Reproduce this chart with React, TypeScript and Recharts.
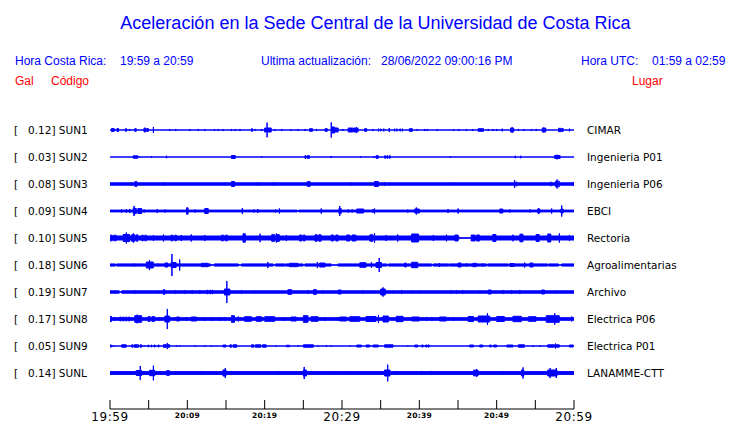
import React from 'react';
import { ComposedChart, Area, XAxis, YAxis } from 'recharts';

type Burst = [number, number, number?];

const BLUE = '#0000ff';
const RED = '#ff0000';

const codes = ['SUN1', 'SUN2', 'SUN3', 'SUN4', 'SUN5', 'SUN6', 'SUN7', 'SUN8', 'SUN9', 'SUNL'];
const places = [
  'CIMAR', 'Ingenieria P01', 'Ingenieria P06', 'EBCI', 'Rectoria',
  'Agroalimentarias', 'Archivo', 'Electrica P06', 'Electrica P01', 'LANAMME-CTT',
];
const peaks = ['0.12', '0.03', '0.08', '0.09', '0.10', '0.18', '0.19', '0.17', '0.05', '0.14'];
// half width of the background noise band of each trace
const baseNoise = [0, 0, 1.2, 0.9, 2.0, 1.1, 1.2, 1.3, 0, 1.4];

// minutes after 19:59
const tickMinutes = [0, 5, 10, 15, 20, 25, 30, 35, 40, 45, 50, 55, 60];
const tickLabels = ['19:59', '', '20:09', '', '20:19', '', '20:29', '', '20:39', '', '20:49', '', '20:59'];
const majorLabels = ['19:59', '20:29', '20:59'];

// bursts: [minute, half amplitude, duration in minutes]
const sun1: Burst[] = [[0.2,1.5,0.3],[0.6,1.2],[0.9,1.5,0.2],[2.0,1.3,0.15],[2.55,1],[3.2,1.3,0.2],[4.4,2,0.2],[4.75,1.5,0.2],[5.6,3],[7.7,1],[8.5,1],[10.3,0.8],[11.4,1],[12.25,1],[13.5,1],[14.0,1],[14.6,1],[15.7,1],[16.2,1],[16.8,1],[18.3,1.3,0.15],[18.8,1],[19.6,1],[20.0,2,0.25],[20.3,7.3],[20.4,2,0.45],[21.3,1],[22.2,1],[23.4,0.8],[24.3,1],[25.2,1],[25.8,1.3,0.4],[26.7,1],[27.8,1.3,0.3],[28.6,7.5],[28.7,3,0.35],[29.1,2,0.4],[30.1,1],[30.8,2,0.6],[31.5,2,0.3],[31.9,3],[32.0,1.5,0.1],[32.9,1.3,0.3],[34.0,1],[34.7,1.3],[35.0,1.3],[35.4,1.3],[36.1,2],[36.8,1.3],[37.1,1.3],[37.5,1.3],[37.8,1.3],[38.7,1.3,0.4],[39.7,1],[40.7,1],[41.0,1],[42.3,1],[44.4,0.8],[45.1,1],[46.1,1],[46.9,1],[47.6,1.3,0.7],[48.9,1],[49.5,1],[50.0,1],[50.7,1.3],[51.8,2,0.2],[52.0,2.7],[52.1,2,0.1],[52.8,1],[53.5,1],[54.5,1],[55.1,1],[55.9,2,0.2],[56.1,2.5],[56.2,2,0.15],[58.0,1.7,0.3],[58.4,1.5,0.2],[59.4,1.3]];
const sun2: Burst[] = [[3.0,1.2,0.6],[3.8,0.5],[5.35,0.7],[7.3,1.2],[15.7,1.5,0.5],[19.6,0.6],[25.2,1.3,0.15],[25.5,1.3,0.3],[28.6,1],[32.4,0.7],[34.1,1],[34.4,1.3,0.3],[35.5,1.2,0.15],[35.8,1.2,0.15],[36.1,1.2,0.15],[44.0,0.7],[52.4,1.2],[53.1,1.2],[57.5,1.5,0.3],[57.8,2.3],[57.9,1.5,0.3]];
const sun3: Burst[] = [[3.2,2.3,0.3],[6.9,1.8],[15.7,2.5,0.4],[19.1,1.7],[21.2,1.8],[25.5,2.3,0.4],[31.2,1.6],[34.2,2.5,0.2],[34.4,2.8],[34.45,2.5,0.25],[35.5,2],[43.9,1.6],[52.3,4],[52.5,2.3],[57.0,2.2],[57.6,2.8,0.2],[57.8,4.5],[57.85,2.8,0.25],[59.9,2]];
const sun4: Burst[] = [[1.47,1.5],[2.1,1.8],[2.55,2],[3.0,2.7,0.1],[3.1,5],[3.15,2.7,0.25],[3.6,2.5,0.5],[4.4,1.5],[6.1,2],[7.1,1.5],[9.9,3.2,0.2],[11.0,1.5],[12.25,2.5,0.45],[17.1,3],[18.6,1.5],[19.1,2],[21.4,1.5],[21.9,2.5],[24.2,0.4,0.2],[27.3,2.5],[29.6,2.5,0.1],[29.7,5],[29.75,2.5,0.15],[30.8,1.5],[31.3,1.5],[31.9,2,0.9],[34.0,1.8],[34.2,2.5],[38.5,1.5],[39.4,2,0.2],[39.6,3.5],[39.65,2,0.35],[43.7,2],[45.0,2.5],[50.4,2,0.4],[51.7,1.5],[52.5,1],[54.3,1.5],[55.3,2,0.1],[55.4,3],[55.45,2,0.15],[57.1,2.5],[58.3,2,0.1],[58.4,5.5],[58.45,2,0.15]];
const sun5: Burst[] = [[0.0,2.8,0.3],[0.5,2.8,0.3],[1.7,3.5,0.35],[2.1,5.5],[2.15,3.5,0.4],[2.8,3.2,0.2],[3.0,4.5],[3.05,3.2,0.2],[3.4,3.2,0.2],[4.1,2.8,0.2],[4.5,2.8,0.2],[5.6,3],[6.9,3.5],[7.9,2.8,0.25],[8.4,2.8,0.2],[9.2,3],[10.5,3.5],[12.25,3],[14.4,2.8,0.3],[14.9,2.8,0.3],[17.2,4.2,0.3],[19.4,4.2],[20.9,3.3,0.4],[21.5,4.5],[21.55,3.3,0.35],[22.8,3],[24.5,3,0.3],[25.0,3,0.2],[26.5,3.2,0.3],[27.0,3.2,0.3],[28.6,3,0.3],[29.2,3,0.3],[30.6,3,0.4],[31.3,3,0.5],[33.6,3.2,0.4],[34.2,4.7],[35.7,3],[37.2,3.5],[39.0,4,0.9],[41.8,3],[43.5,3.3],[44.6,3,0.4],[45.1,0.3,1.6],[46.7,3,0.5],[47.4,3,0.4],[49.5,3.5,0.4],[52.1,3.3],[53.0,3.8,0.4],[55.1,3.5,0.4],[56.6,4,0.4],[58.1,4.5],[59.4,3]];
const sun6: Burst[] = [[0.7,0.2,0.17],[3.1,1.5],[4.7,3,0.35],[5.1,5],[5.15,3,0.45],[6.2,1.5],[7.1,2,0.4],[7.9,2.5,0.1],[8.0,11],[8.05,2.5,0.5],[9.0,5.5],[11.8,1.7,0.9],[13.0,0.2,0.5],[16.6,0.2,0.4],[20.4,3],[21.1,0.2,0.3],[22.6,0.2,0.1],[23.2,1.7,1.1],[24.96,0.2,0.24],[26.8,3],[27.1,2,0.7],[28.6,0.2,0.9],[32.3,2.3,0.8],[33.8,2.8],[34.4,2.5,0.4],[34.8,7],[34.85,2.5,0.25],[35.8,0.2,0.2],[38.1,2,0.2],[39.0,2.7,0.8],[41.6,0.2,0.2],[42.6,2],[43.8,0.2,0.1],[45.0,2,0.4],[46.1,1.7],[46.9,1.7,0.5],[48.2,1.7],[48.7,0.2,0.15],[51.5,0.2,0.15],[51.7,1.5,0.6],[53.6,2.5],[54.0,0.2,0.1],[54.3,2,0.4],[56.6,0.2,0.15],[58.0,0.2,0.4]];
const sun7: Burst[] = [[1.2,0.2,0.3],[3.2,1.8],[4.7,1.5],[6.2,1.5],[6.9,2.3,0.2],[8.4,1.8],[9.7,1.8],[10.6,1.8],[11.6,1.8],[12.5,1.8,0.15],[12.9,1.8,0.15],[13.2,1.8,0.1],[14.8,3,0.25],[15.1,11],[15.15,3,0.35],[17.0,1.8],[18.7,1.5],[23.0,2.3,0.5],[25.6,1.8],[26.3,2.3,0.4],[27.5,1.8],[29.5,2,0.4],[32.7,1.8],[35.0,3,0.3],[35.3,4.5],[35.35,3,0.25],[36.6,1.5],[37.7,2],[39.0,1.5],[40.0,1.5],[41.3,1.5],[44.1,1.8],[44.8,1.8],[45.6,1.8],[47.8,1.5],[48.9,2,0.4],[50.8,2],[51.9,1.8],[53.0,2],[55.8,2,0.4],[57.7,1.5]];
const sun8: Burst[] = [[0.0,2.5,0.2],[0.6,2],[1.25,2,0.15],[1.6,2,0.15],[2.0,2,0.15],[2.4,2,0.15],[3.2,3.3,0.3],[3.5,4.3],[3.55,3.3,0.55],[4.9,2.3,0.3],[5.4,2.3,0.4],[6.4,2],[7.1,3,0.3],[7.4,10],[7.45,3,0.25],[8.6,2,0.4],[9.9,2],[10.5,2,0.7],[12.25,2],[13.1,2],[14.2,2],[14.8,2],[15.7,3.3,0.4],[16.6,2.5],[17.4,2.3,0.9],[18.9,2.3,0.7],[20.0,2.3,1.3],[22.6,2],[23.4,2,0.7],[25.0,3.3,0.6],[26.0,2.3,0.9],[27.8,2],[29.5,2],[29.7,2,0.9],[31.0,2.3,1.3],[33.1,2.5,1.3],[34.7,4],[35.3,3,0.7],[37.0,2.7,0.9],[39.0,2,1.0],[40.9,2],[41.6,2],[42.6,2,0.9],[44.4,2],[46.3,2.5,0.7],[47.6,3,1.2],[48.8,5.7],[48.85,3,0.25],[50.0,2.5,1.0],[52.1,2.7,1.1],[54.1,2.3,1.0],[56.4,3.3,1.1],[57.5,5.7],[57.55,3.3,0.55],[59.7,2.5]];
const sun9: Burst[] = [[0.0,1,0.2],[0.4,0.6],[1.5,1.2,0.6],[2.8,1.2,0.15],[3.1,1.2,0.6],[3.9,1.2,0.2],[4.4,0.6],[4.9,1,0.1],[5.3,1,0.1],[5.7,1,0.15],[6.2,1,0.15],[6.9,1.3,0.4],[7.4,3],[7.45,1.3,0.25],[8.6,0.6],[9.0,0.6],[11.0,0.6],[12.25,0.6],[13.1,0.6],[14.6,1,0.4],[15.5,1.2,0.2],[15.9,1.2,0.5],[18.3,1.2,0.3],[18.8,1.2,0.7],[19.7,1.2,0.5],[21.5,0.6],[22.8,0.8,0.4],[24.3,0.6],[25.0,1.2,1.3],[26.9,0.6],[28.0,0.8],[28.6,0.6],[31.0,0.5],[31.9,1,0.6],[33.1,1,0.5],[34.0,1,0.7],[35.5,1.2,1.1],[38.5,0.6],[39.4,1,0.4],[40.3,1,0.2],[40.8,1,0.2],[41.1,1,0.2],[46.5,1,0.5],[47.8,1,0.4],[49.1,1,0.2],[49.6,1,0.4],[51.3,1,0.8],[52.8,1.2,0.8],[54.7,0.8],[55.6,0.6],[56.6,1.2,0.9],[57.6,2.5],[57.65,1.2,0.45],[59.4,1,0.5]];
const sunl: Burst[] = [[0.2,2],[3.4,2.5,0.5],[3.9,7],[3.95,2.5,0.15],[5.1,2.7,0.5],[5.6,7.3],[5.65,2.7,0.15],[6.6,1.8],[7.3,2.3,0.4],[11.8,2],[14.6,3,0.3],[14.9,5],[14.95,3,0.05],[15.7,2],[16.3,1.8],[21.8,2],[25.0,3,0.1],[25.1,6],[25.15,3,0.25],[29.1,1.8],[31.0,1.8],[35.5,3,0.4],[35.9,8.3],[35.95,3,0.25],[37.0,2],[40.3,2],[41.6,2],[47.0,2.8,0.4],[47.4,3.8],[47.45,2.8,0.15],[50.7,2],[53.2,3,0.2],[53.4,5.5],[53.45,3,0.05],[56.6,3,0.3],[56.9,5],[56.95,3,0.75],[57.7,5],[57.75,3,0.05]];

const bursts = [sun1, sun2, sun3, sun4, sun5, sun6, sun7, sun8, sun9, sunl];

const SPACING = 27;
const centers = codes.map((_, i) => 13 + SPACING * i);

function buildBand(center: number, base: number, list: Burst[]) {
  const sorted = [...list].sort((a, b) => a[0] - b[0]);
  const band = (a: number) => [center - a, center + a];
  const pts: { t: number; v: number[] }[] = [{ t: 0, v: band(base) }];
  sorted.forEach(([t, a, d = 0.02], i) => {
    const next = i + 1 < sorted.length ? sorted[i + 1][0] : 60;
    const end = Math.min(t + d, next);
    pts.push({ t, v: band(a) });
    if (end < next) pts.push({ t: end, v: band(base) });
  });
  pts.push({ t: 60, v: band(base) });
  return pts;
}

const traces = codes.map((c, i) => ({ code: c, data: buildBand(centers[i], baseNoise[i], bursts[i]) }));

const LeftTick = (props: any) => {
  const { y, payload } = props;
  const i = centers.indexOf(payload.value);
  if (i < 0) return null;
  return (
    <g fontFamily="DejaVu Sans" fontSize={10.5} fill="#000">
      <text x={14} y={y + 4}>[</text>
      <text x={28} y={y + 4}>{`${peaks[i]}] ${codes[i]}`}</text>
    </g>
  );
};

const RightTick = (props: any) => {
  const { y, payload } = props;
  const i = centers.indexOf(payload.value);
  if (i < 0) return null;
  return (
    <text x={587} y={y + 4} fontFamily="DejaVu Sans" fontSize={10.5} fill="#000">
      {places[i]}
    </text>
  );
};

const TimeTick = (props: any) => {
  const { x, y, payload } = props;
  const i = tickMinutes.indexOf(payload.value);
  const label = i >= 0 ? tickLabels[i] : '';
  const major = majorLabels.includes(label);
  return (
    <g>
      <line x1={x} x2={x} y1={y - 9} y2={y} stroke="#000" strokeWidth={1} />
      {label && (
        <text
          x={x}
          y={y + (major ? 12 : 9)}
          textAnchor="middle"
          fontFamily="DejaVu Sans"
          fontSize={major ? 12 : 7.5}
          fontWeight={major ? 'normal' : 'bold'}
          letterSpacing={major ? 0.6 : 0.3}
          fill="#000"
        >
          {label}
        </text>
      )}
    </g>
  );
};

export default function App() {
  return (
    <div style={{ position: 'absolute', left: 0, top: 0, width: 740, height: 423, background: '#fff' }}>
      <svg width={740} height={100} style={{ position: 'absolute', left: 0, top: 0 }}>
        <g fontFamily="Liberation Sans">
          <text x={375.5} y={29} textAnchor="middle" fontSize={18} fill={BLUE}>
            Aceleración en la Sede Central de la Universidad de Costa Rica
          </text>
          <g fontSize={12} fill={BLUE}>
            <text x={15} y={65}>Hora Costa Rica:</text>
            <text x={120} y={65}>19:59 a 20:59</text>
            <text x={261} y={65}>Ultima actualización:</text>
            <text x={381} y={65}>28/06/2022 09:00:16 PM</text>
            <text x={581} y={65}>Hora UTC:</text>
            <text x={652} y={65}>01:59 a 02:59</text>
          </g>
          <g fontSize={12} fill={RED}>
            <text x={15} y={85}>Gal</text>
            <text x={51} y={85}>Código</text>
            <text x={632} y={85}>Lugar</text>
          </g>
        </g>
      </svg>
      <div style={{ position: 'absolute', left: 0, top: 0 }}>
        <ComposedChart width={740} height={423} margin={{ top: 117, right: 0, bottom: 0, left: 10 }}>
          <XAxis
            type="number"
            dataKey="t"
            domain={[0, 60]}
            allowDataOverflow
            ticks={tickMinutes}
            interval={0}
            height={14}
            tickSize={0}
            tickMargin={0}
            tickLine={false}
            axisLine={{ stroke: '#000' }}
            tick={<TimeTick />}
          />
          <YAxis
            yAxisId="left"
            type="number"
            domain={[0, 292]}
            allowDataOverflow
            reversed
            width={100}
            ticks={centers}
            interval={0}
            axisLine={false}
            tickLine={false}
            tick={<LeftTick />}
          />
          <YAxis
            yAxisId="right"
            orientation="right"
            type="number"
            domain={[0, 292]}
            allowDataOverflow
            reversed
            width={166}
            ticks={centers}
            interval={0}
            axisLine={false}
            tickLine={false}
            tick={<RightTick />}
          />
          {traces.map((tr) => (
            <Area
              key={tr.code}
              yAxisId="left"
              data={tr.data}
              dataKey="v"
              type="stepAfter"
              stroke={BLUE}
              strokeWidth={1}
              fill={BLUE}
              fillOpacity={1}
              dot={false}
              activeDot={false}
              isAnimationActive={false}
            />
          ))}
        </ComposedChart>
      </div>
    </div>
  );
}
